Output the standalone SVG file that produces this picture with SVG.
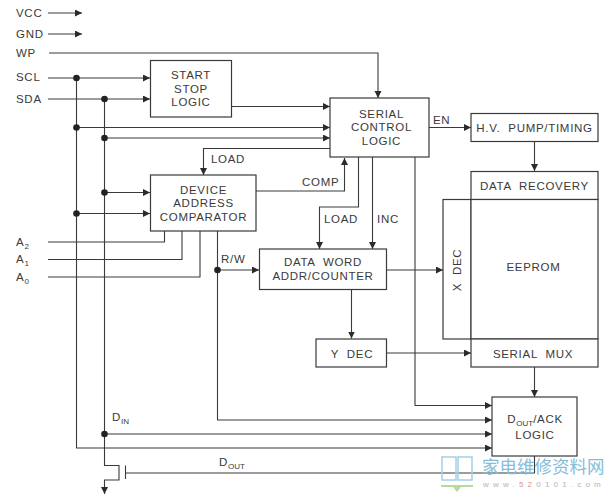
<svg xmlns="http://www.w3.org/2000/svg" width="613" height="495" viewBox="0 0 613 495">
<defs>
<marker id="a" markerUnits="userSpaceOnUse" markerWidth="8" markerHeight="8" refX="7" refY="3.5" orient="auto"><path d="M0 0L7 3.5L0 7Z" fill="#2b2b2b"/></marker>
</defs>
<style>
text{font-family:"Liberation Sans",Arial,sans-serif;font-size:11.5px;fill:#3a3a3a;letter-spacing:.7px}
.m{text-anchor:middle}
.w{word-spacing:4px}
.s{font-size:8px;letter-spacing:0}
rect{fill:#fff;stroke:#3a3a3a;stroke-width:1.2}
.c path{fill:none;stroke:#3a3a3a;stroke-width:1.1}
.c .ar{marker-end:url(#a)}
.d circle{fill:#222}
</style>
<rect x="0" y="0" width="613" height="495" style="fill:#fff;stroke:none"/>
<g id="connectors" class="c">
<path class="ar" d="M48 13H82"/>
<path class="ar" d="M48 34H82"/>
<path class="ar" d="M49 53H378V98"/>
<path class="ar" d="M48 78H150"/>
<path class="ar" d="M48 99H150"/>
<path class="ar" d="M231.500 106.500H330"/>
<path class="ar" d="M76.500 127.500H330"/>
<path class="ar" d="M104.500 138H330"/>
<path class="ar" d="M330 148.500H203.500V175"/>
<path class="ar" d="M104.500 192.500H150"/>
<path class="ar" d="M76.500 213.500H150"/>
<path class="ar" d="M256 191H344.500V158"/>
<path d="M48 242H164.500V231"/>
<path d="M48 259.500H182V231"/>
<path d="M48 277H200V231"/>
<path class="ar" d="M217.500 231V420H492"/>
<path class="ar" d="M217.500 270H259"/>
<path class="ar" d="M358.500 157V207H319.500V249"/>
<path class="ar" d="M372.500 157V249"/>
<path class="ar" d="M415 157V405.500H492"/>
<path class="ar" d="M429 127.500H471"/>
<path class="ar" d="M534.500 141.500V171"/>
<path class="ar" d="M386.500 270H443"/>
<path class="ar" d="M351.500 289.500V338.500"/>
<path class="ar" d="M386.500 353H471"/>
<path class="ar" d="M534.500 367V397"/>
<path class="ar" d="M104.500 434H492"/>
<path class="ar" d="M76.500 78V448H492"/>
<path class="ar" d="M104.500 99V465.500H119V480H104.500V494"/>
<path d="M125.500 465.500V479"/>
<path d="M125.500 473H534.500V456"/>
</g>
<g id="junctions" class="d">
<circle cx="76.500" cy="78" r="3.300"/><circle cx="104.500" cy="99" r="3.300"/><circle cx="76.500" cy="127.500" r="3.300"/><circle cx="104.500" cy="138" r="3.300"/><circle cx="104.500" cy="192.500" r="3.300"/><circle cx="76.500" cy="213.500" r="3.300"/><circle cx="217.500" cy="270" r="3.300"/><circle cx="104.500" cy="434" r="3.300"/>
</g>
<g id="pins">
<text x="16" y="17">VCC</text><text x="16" y="38">GND</text><text x="16" y="57">WP</text><text x="16" y="81">SCL</text><text x="16" y="103">SDA</text>
<text x="16" y="246">A<tspan class="s" dy="3">2</tspan></text><text x="16" y="263">A<tspan class="s" dy="3">1</tspan></text><text x="16" y="281">A<tspan class="s" dy="3">0</tspan></text>
</g>
<g id="labels">
<text x="211" y="163">LOAD</text><text x="302" y="186">COMP</text><text x="324" y="223">LOAD</text><text x="377" y="223">INC</text><text x="433" y="124">EN</text><text x="221" y="263">R/W</text>
<text x="112" y="421">D<tspan class="s" dy="3">IN</tspan></text><text x="219" y="466">D<tspan class="s" dy="3">OUT</tspan></text>
</g>
<g id="start-stop-logic"><rect x="150.500" y="60.500" width="81" height="56.500"/><text class="m" x="191" y="79">START</text><text class="m" x="191" y="93">STOP</text><text class="m" x="191" y="106">LOGIC</text></g>
<g id="serial-control-logic"><rect x="330" y="98" width="99" height="59"/><text class="m" x="381.500" y="118">SERIAL</text><text class="m" x="381.500" y="131">CONTROL</text><text class="m" x="381.500" y="145">LOGIC</text></g>
<g id="device-address-comparator"><rect x="150.500" y="175" width="105.500" height="56"/><text class="m" x="203.500" y="194">DEVICE</text><text class="m" x="203.500" y="207">ADDRESS</text><text class="m" x="203.500" y="221">COMPARATOR</text></g>
<g id="data-word"><rect x="259.500" y="249" width="127" height="40.500"/><text class="m w" x="323" y="266">DATA WORD</text><text class="m" x="323" y="280">ADDR/COUNTER</text></g>
<g id="hv-pump"><rect x="471" y="113.500" width="127" height="28"/><text class="m w" x="534.500" y="131.500">H.V. PUMP/TIMING</text></g>
<g id="data-recovery"><rect x="471" y="171.500" width="127" height="28"/><text class="m w" x="534.500" y="190">DATA RECOVERY</text></g>
<g id="x-dec"><rect x="443" y="199.500" width="28" height="139.500"/><text class="m w" transform="translate(460.500 270) rotate(-90)">X DEC</text></g>
<g id="eeprom"><rect x="471" y="199.500" width="127" height="139.500"/><text class="m" x="533.500" y="270.500">EEPROM</text></g>
<g id="y-dec"><rect x="316" y="339" width="70.500" height="28"/><text class="m w" x="352" y="357.500">Y DEC</text></g>
<g id="serial-mux"><rect x="471" y="339" width="127" height="28"/><text class="m w" x="533" y="357.500">SERIAL MUX</text></g>
<g id="dout-ack-logic"><rect x="492" y="397" width="85" height="59"/><text class="m" x="535" y="423">D<tspan class="s" dy="3">OUT</tspan><tspan dy="-3">/ACK</tspan></text><text class="m" x="535" y="439">LOGIC</text></g>
<g id="watermark">
<path d="M442 457H456V480H442ZM458 457H472V480H458Z" fill="none" stroke="#a3d0e6" stroke-width="1.500"/>
<path d="M441 485H473V487H461L457 492L453 487H441Z" fill="#b5dc9a"/>
<text x="482" y="473" style="font-family:'Noto Sans CJK SC',sans-serif;font-size:17.500px;fill:#85bdd9;letter-spacing:0">家电维修资料网</text>
<text x="483" y="487" style="font-size:8px;fill:#b5b5b5;letter-spacing:4.200px">www.<tspan style="fill:#dd8f8f">52</tspan>0101.com</text>
</g>
</svg>
